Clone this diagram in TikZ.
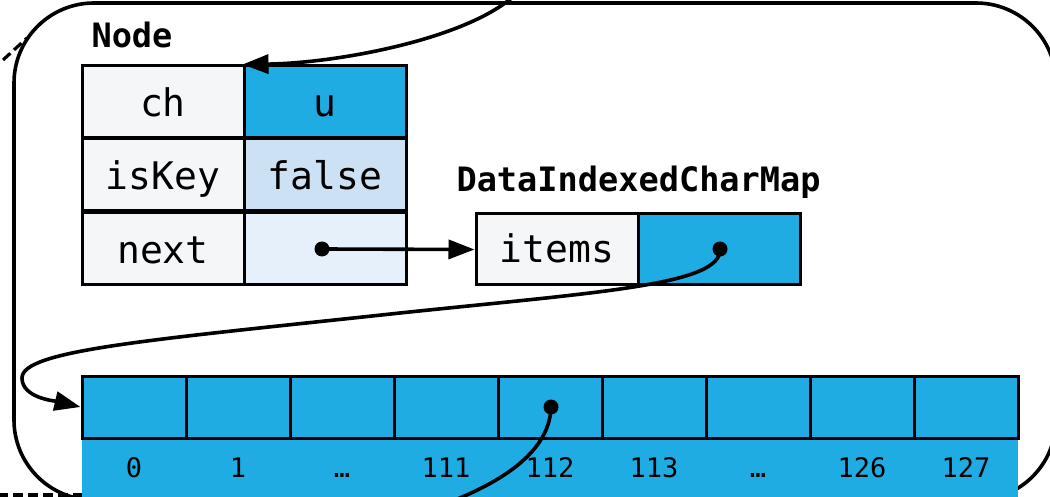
\documentclass[tikz,border=0pt]{standalone}
\usepackage{fontspec}
\usepackage{tikz}
\usetikzlibrary{arrows.meta}

\newfontfamily\codefont{DejaVu Sans Mono}
\newcommand\tblfont{\fontsize{38}{40}\selectfont\codefont}
\newcommand\hdfont{\fontsize{33.6}{36}\selectfont\codefont\bfseries}
\newcommand\idxfont{\fontsize{27}{30}\selectfont\codefont}

\definecolor{ptrblue}{HTML}{1EACE3}
\definecolor{boolblue}{HTML}{CCE2F4}
\definecolor{nextblue}{HTML}{E6F0FA}
\definecolor{keygray}{HTML}{F5F6F8}

\begin{document}
\begin{tikzpicture}[x=1pt,y=-1pt,
    cell/.style={draw, line width=3pt, minimum width=162, minimum height=72, inner sep=0pt, text height=29pt, text depth=0pt, font=\tblfont},
    slot/.style={draw, line width=3pt, fill=ptrblue, minimum width=104, minimum height=62, inner sep=0pt},
    idx/.style={font=\idxfont, anchor=base},
    heading/.style={anchor=base west, font=\hdfont},
    pointer/.style={circle, fill, inner sep=0pt, minimum size=15},
    link/.style={line width=3.6pt, -{Triangle[length=26pt,width=19pt]}}]
    \useasboundingbox (0,0) rectangle (1050,497);
    \clip (0,0) rectangle (1050,497);
        %Frame around the trie
    \draw[line width=3.6pt, rounded corners=80pt] (14,3) rectangle (1056,500);
    \draw[line width=3.2pt, dash pattern=on 10pt off 5pt] (3,60) -- (27,38);
    \draw[line width=3.2pt, dash pattern=on 10pt off 5pt] (-2,495) -- (84,495);
        %Node
    \node[heading] (nodetitle) at (88,48) {Node};
    \foreach \name/\txt/\val/\col/\y in {ch/ch/u/ptrblue/102, iskey/isKey/false/boolblue/175, next/next//nextblue/249}
    {
        \node[cell, fill=keygray] (\name) at (163,\y) {\txt};
        \node[cell, fill=\col] (\name val) at (325,\y) {\val};
    }
        %DataIndexedCharMap
    \node[heading] (maptitle) at (453,192) {DataIndexedCharMap};
    \node[cell, fill=keygray, minimum height=71, text height=27pt] (items) at (557,249.5) {items};
    \node[cell, fill=ptrblue, minimum height=71] (itemsval) at (719,249.5) {};
        %Array of 128 slots
    \fill[ptrblue] (82,438) rectangle (1018,505);
    \foreach \i in {0,...,8}
    \node[slot] (s\i) at (134+104*\i,407) {};
    \foreach \i/\lab in {0/0, 1/1, 2/…, 3/111, 4/112, 5/113, 6/…, 7/126, 8/127}
    \node[idx] (l\i) at (134+104*\i,477) {\lab};
        %Pointers
    \node[pointer] (nextptr) at (322,249) {};
    \node[pointer] (itemsptr) at (720,249) {};
    \node[pointer] (slotptr) at (551,407) {};
    \coordinate (parent) at (516,-6);
    \coordinate (child) at (442,505);
    \draw[link] (parent) .. controls (470,38) and (340,63) .. (chval.north west);
    \draw[link] (nextptr.center) -- (items.west);
    \draw[link] (itemsptr.center) .. controls (722,285) and (600,292) .. (400,313)
        .. controls (150,340) and (22,350) .. (22,378)
        .. controls (22,398) and (55,401) .. (s0.west);
    \draw[line width=3.6pt] (slotptr.center) .. controls (550,445) and (515,478) .. (child);
\end{tikzpicture}
\end{document}
